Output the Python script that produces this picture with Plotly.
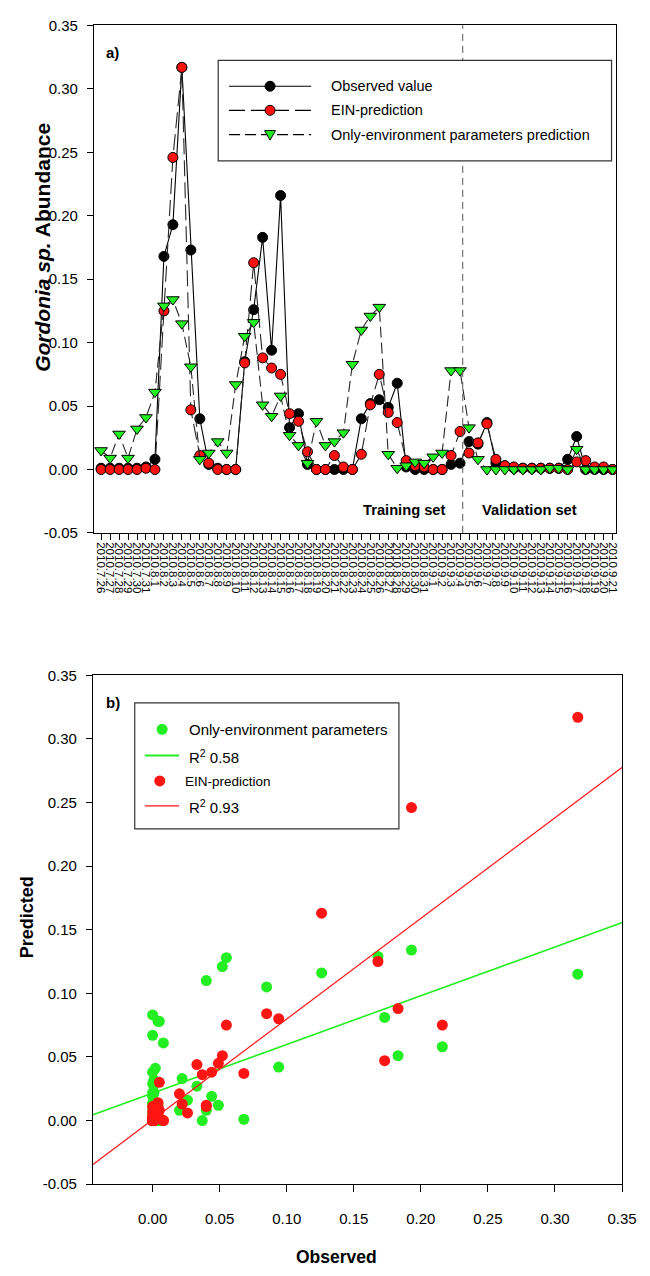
import plotly.graph_objects as go

W, H = 650, 1276

# ---------------- data ----------------
sample_dates = [
    "2010.7.26", "2010.7.27", "2010.7.28", "2010.7.29", "2010.7.30", "2010.7.31",
    "2010.8.1", "2010.8.2", "2010.8.3", "2010.8.4", "2010.8.5", "2010.8.6", "2010.8.7",
    "2010.8.8", "2010.8.9", "2010.8.10", "2010.8.11", "2010.8.12", "2010.8.13", "2010.8.14",
    "2010.8.15", "2010.8.16", "2010.8.17", "2010.8.18", "2010.8.19", "2010.8.20", "2010.8.21",
    "2010.8.22", "2010.8.23", "2010.8.24", "2010.8.25", "2010.8.26", "2010.8.27", "2010.8.28",
    "2010.8.29", "2010.8.30", "2010.8.31",
    "2010.9.1", "2010.9.2", "2010.9.3", "2010.9.4", "2010.9.5", "2010.9.6", "2010.9.7",
    "2010.9.8", "2010.9.9", "2010.9.10", "2010.9.11", "2010.9.12", "2010.9.13", "2010.9.14",
    "2010.9.15", "2010.9.16", "2010.9.17", "2010.9.18", "2010.9.19", "2010.9.20", "2010.9.21",
]

observed = [
    0.001, 0.001, 0.001, 0.001, 0.001, 0.002, 0.008, 0.168, 0.193, 0.317,
    0.173, 0.040, 0.004, 0.001, 0.000, 0.000, 0.085, 0.126, 0.183, 0.094,
    0.216, 0.033, 0.044, 0.004, 0.000, 0.000, 0.000, 0.000, 0.000, 0.040,
    0.052, 0.055, 0.049, 0.068, 0.002, 0.000, 0.000, 0.000, 0.000, 0.004,
    0.005, 0.022, 0.020, 0.037, 0.005, 0.003, 0.001, 0.001, 0.001, 0.001,
    0.001, 0.001, 0.008, 0.026, 0.000, 0.000, 0.000, 0.000,
]

ein_pred = [
    0.000, 0.000, 0.000, 0.000, 0.000, 0.001, 0.000, 0.125, 0.246, 0.317,
    0.047, 0.011, 0.005, 0.000, 0.000, 0.000, 0.084, 0.163, 0.088, 0.080,
    0.075, 0.044, 0.038, 0.014, 0.000, 0.000, 0.011, 0.002, 0.000, 0.012,
    0.051, 0.075, 0.045, 0.037, 0.007, 0.003, 0.002, 0.000, 0.000, 0.011,
    0.030, 0.013, 0.021, 0.036, 0.008, 0.003, 0.002, 0.001, 0.001, 0.001,
    0.001, 0.001, 0.000, 0.006, 0.007, 0.002, 0.002, 0.000,
]

env_pred = [
    0.015, 0.009, 0.028, 0.009, 0.032, 0.041, 0.061, 0.129, 0.134, 0.115,
    0.081, 0.008, 0.013, 0.022, 0.013, 0.067, 0.105, 0.116, 0.051, 0.042,
    0.058, 0.027, 0.019, 0.005, 0.038, 0.019, 0.022, 0.029, 0.083, 0.110,
    0.121, 0.128, 0.012, 0.001, 0.003, 0.006, 0.005, 0.010, 0.013, 0.078,
    0.078, 0.033, 0.008, 0.000, 0.000, 0.000, 0.000, 0.000, 0.000, 0.000,
    0.001, 0.001, 0.000, 0.016, 0.000, 0.000, 0.000, 0.000,
]

split_position = 40.3          # training / validation boundary (sample index)

ein_fit = {"slope": 0.791, "intercept": 0.0007, "r2": "0.93"}
env_fit = {"slope": 0.383, "intercept": 0.0215, "r2": "0.58"}

y_ticks = [-0.05, 0.00, 0.05, 0.10, 0.15, 0.20, 0.25, 0.30, 0.35]
b_x_ticks = [0.00, 0.05, 0.10, 0.15, 0.20, 0.25, 0.30, 0.35]
b_x_range = [-0.0445, 0.3502]

legend_a_names = ["Observed value", "EIN-prediction", "Only-environment parameters prediction"]
legend_b_names = ["Only-environment parameters", "EIN-prediction"]

# ---------------- styles ----------------
FONT = "Liberation Sans, Arial, sans-serif"
RED_A = "#ff1010"
GREEN_A = "#22f022"
RED_B = "#ff1414"
GREEN_B = "#22ee22"
LINE_C = "#262626"
DASH_EIN = "16px,6px"
DASH_ENV = "11px,5px"


def px(x):
    return x / W


def py(y):
    return 1 - y / H


idx = list(range(len(observed)))

fig = go.Figure()

# ---------------- panel a ----------------
fig.add_trace(go.Scatter(
    x=idx, y=observed, mode="lines+markers", name=legend_a_names[0],
    line=dict(color="black", width=1.1),
    marker=dict(symbol="circle", size=10, color="black", line=dict(color="black", width=1)),
    xaxis="x", yaxis="y", showlegend=False))
fig.add_trace(go.Scatter(
    x=idx, y=ein_pred, mode="lines+markers", name=legend_a_names[1],
    line=dict(color=LINE_C, width=1.1, dash=DASH_EIN),
    marker=dict(symbol="circle", size=10, color=RED_A, line=dict(color="black", width=1)),
    xaxis="x", yaxis="y", showlegend=False))
fig.add_trace(go.Scatter(
    x=idx, y=env_pred, mode="lines+markers", name=legend_a_names[2],
    line=dict(color=LINE_C, width=1.1, dash=DASH_ENV),
    marker=dict(symbol="triangle-down", size=11, color=GREEN_A, line=dict(color="black", width=1)),
    xaxis="x", yaxis="y", showlegend=False))

# ---------------- panel b ----------------
fig.add_trace(go.Scatter(
    x=observed, y=env_pred, mode="markers", name=legend_b_names[0],
    marker=dict(symbol="circle", size=11, color=GREEN_B),
    xaxis="x2", yaxis="y2", showlegend=False))
fig.add_trace(go.Scatter(
    x=b_x_range,
    y=[env_fit["intercept"] + env_fit["slope"] * v for v in b_x_range],
    mode="lines", line=dict(color=GREEN_B, width=1.6),
    xaxis="x2", yaxis="y2", showlegend=False))
fig.add_trace(go.Scatter(
    x=observed, y=ein_pred, mode="markers", name=legend_b_names[1],
    marker=dict(symbol="circle", size=11, color=RED_B),
    xaxis="x2", yaxis="y2", showlegend=False))
fig.add_trace(go.Scatter(
    x=b_x_range,
    y=[ein_fit["intercept"] + ein_fit["slope"] * v for v in b_x_range],
    mode="lines", line=dict(color=RED_B, width=1.2),
    xaxis="x2", yaxis="y2", showlegend=False))

tickfont = dict(family=FONT, size=15, color="black")

axis_common = dict(showgrid=False, zeroline=False, showline=True, linecolor="black",
                   linewidth=1, mirror=True, ticks="outside", tickcolor="black",
                   tickwidth=1)

fig.update_layout(
    width=W, height=H, margin=dict(l=0, r=0, t=0, b=0),
    paper_bgcolor="white", plot_bgcolor="white", showlegend=False,
    font=dict(family=FONT, color="black"),
    xaxis=dict(domain=[px(96), px(630)], range=[-0.8, 57.43], anchor="y",
               tickmode="array", tickvals=idx, ticktext=sample_dates,
               tickangle=90, tickfont=dict(family=FONT, size=11.5, color="black"),
               ticklen=6, **axis_common),
    yaxis=dict(domain=[py(531), py(16.5)], range=[-0.05, 0.3502], anchor="x",
               tickmode="array", tickvals=y_ticks,
               ticktext=[f"{v:.2f}" for v in y_ticks],
               tickfont=tickfont, ticklen=6, ticklabelstandoff=6, **axis_common),
    xaxis2=dict(domain=[px(95), px(636)], range=b_x_range, anchor="y2",
                tickmode="array", tickvals=b_x_ticks,
                ticktext=[f"{v:.2f}" for v in b_x_ticks],
                tickfont=tickfont, ticklen=7, ticklabelstandoff=14, **axis_common),
    yaxis2=dict(domain=[py(1191), py(675)], range=[-0.05, 0.3502], anchor="x2",
                tickmode="array", tickvals=y_ticks,
                ticktext=[f"{v:.2f}" for v in y_ticks],
                tickfont=tickfont, ticklen=6, ticklabelstandoff=6, **axis_common),
)

shapes = []
# training / validation divider
shapes.append(dict(type="line", xref="x", yref="y domain", x0=split_position, x1=split_position,
                   y0=0, y1=1, line=dict(color="#555555", width=1, dash="7px,5px"), layer="above"))

# legend a box
shapes.append(dict(type="rect", xref="paper", yref="paper", x0=px(223), x1=px(625),
                   y0=py(154), y1=py(52), fillcolor="white",
                   line=dict(color="#333333", width=1.2), layer="above"))
rows_a = [78.3, 102.7, 127.3]
dashes_a = ["solid", DASH_EIN, DASH_ENV]
for ry, dsh in zip(rows_a, dashes_a):
    shapes.append(dict(type="line", xref="paper", yref="paper", x0=px(234), x1=px(318),
                       y0=py(ry), y1=py(ry), line=dict(color="black", width=1.1, dash=dsh),
                       layer="above"))
# legend a symbols (pixel-sized)
for ry, col in zip(rows_a[:2], ["black", RED_A]):
    shapes.append(dict(type="circle", xref="paper", yref="paper",
                       xsizemode="pixel", ysizemode="pixel",
                       xanchor=px(276), yanchor=py(ry), x0=-5, x1=5, y0=-5, y1=5,
                       fillcolor=col, line=dict(color="black", width=1), layer="above"))
shapes.append(dict(type="path", xref="paper", yref="paper",
                   xsizemode="pixel", ysizemode="pixel",
                   xanchor=px(276), yanchor=py(rows_a[2]),
                   path="M -5.5 4 L 5.5 4 L 0 -5.5 Z",
                   fillcolor=GREEN_A, line=dict(color="black", width=1), layer="above"))

# legend b box
shapes.append(dict(type="rect", xref="paper", yref="paper", x0=px(137.7), x1=px(407.7),
                   y0=py(831), y1=py(703.3), fillcolor="white",
                   line=dict(color="#333333", width=1.2), layer="above"))
shapes.append(dict(type="circle", xref="paper", yref="paper",
                   xsizemode="pixel", ysizemode="pixel",
                   xanchor=px(165.7), yanchor=py(730), x0=-5.5, x1=5.5, y0=-5.5, y1=5.5,
                   fillcolor=GREEN_B, line=dict(width=0), layer="above"))
shapes.append(dict(type="line", xref="paper", yref="paper", x0=px(148), x1=px(183),
                   y0=py(756.7), y1=py(756.7), line=dict(color=GREEN_B, width=2), layer="above"))
shapes.append(dict(type="circle", xref="paper", yref="paper",
                   xsizemode="pixel", ysizemode="pixel",
                   xanchor=px(163.3), yanchor=py(782.3), x0=-5.5, x1=5.5, y0=-5.5, y1=5.5,
                   fillcolor=RED_B, line=dict(width=0), layer="above"))
shapes.append(dict(type="line", xref="paper", yref="paper", x0=px(148), x1=px(183),
                   y0=py(807.7), y1=py(807.7), line=dict(color=RED_B, width=1.3), layer="above"))

fig.update_layout(shapes=shapes)

ann = []


def text(xp, yp, s, size, anchor="left", angle=0):
    ann.append(dict(x=px(xp), y=py(yp), xref="paper", yref="paper", text=s,
                    showarrow=False, xanchor=anchor, yanchor="middle", textangle=angle,
                    font=dict(family=FONT, size=size, color="black")))


for ry, name in zip(rows_a, legend_a_names):
    text(336, ry, name, 14.5)
text(191, 730, legend_b_names[0], 15)
text(191, 757.5, "R<sup>2</sup> " + env_fit["r2"], 15)
text(187, 782.5, legend_b_names[1], 13.5)
text(191, 808.5, "R<sup>2</sup> " + ein_fit["r2"], 15)

text(106, 44, "<b>a)</b>", 15)
text(106, 703, "<b>b)</b>", 15)
text(413, 508, "<b>Training set</b>", 14.7, anchor="center")
text(541.5, 508, "<b>Validation set</b>", 14.7, anchor="center")

text(44, 242, "<b><i>Gordonia sp.</i> Abundance</b>", 21, anchor="center", angle=-90)
text(27, 920, "<b>Predicted</b>", 18, anchor="center", angle=-90)
text(344, 1265, "<b>Observed</b>", 17.5, anchor="center")

fig.update_layout(annotations=ann)

fig.write_html(
    "out.html",
    config={"displayModeBar": False},
    post_script="document.body.style.margin='0';document.body.style.overflow='hidden';",
)
